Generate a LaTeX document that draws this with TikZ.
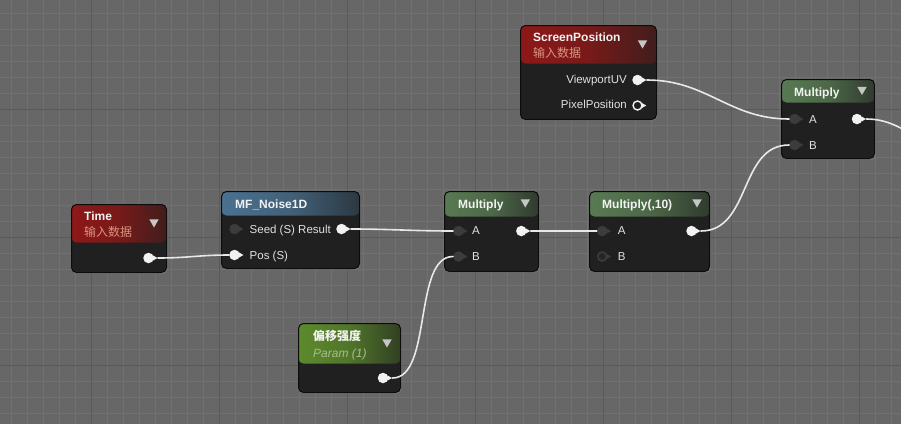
\documentclass[tikz,border=0pt]{standalone}
\usepackage{fontspec}
\setmainfont{Liberation Sans}
\newfontfamily\cjk{Noto Sans CJK SC}
\usepackage{tikz}
\usetikzlibrary{shapes.geometric,shadows}

\definecolor{ueGrid}{HTML}{676767}
\definecolor{ueMinor}{HTML}{717171}
\definecolor{ueMajor}{HTML}{5A5A5A}
\definecolor{ueBody}{HTML}{1F201F}
\definecolor{ueEdge}{HTML}{0C0C0C}
\definecolor{ueRed}{HTML}{8E1818}
\definecolor{ueBlue}{HTML}{4A7190}
\definecolor{ueGreen}{HTML}{587A52}
\definecolor{ueParam}{HTML}{5C8A2C}
\definecolor{ueMenu}{HTML}{C6C6C6}
\definecolor{uePin}{HTML}{F2F2F2}
\definecolor{ueDim}{HTML}{3B3C3B}
\definecolor{ueWire}{HTML}{E8E8E8}
\definecolor{ueText}{HTML}{F2F2F2}
\definecolor{ueLabel}{HTML}{E0E0E0}
\definecolor{ueKind}{HTML}{D99580}
\definecolor{ueParamText}{HTML}{A8BD92}

\tikzset{
  gridminor/.style={draw=ueMinor, line width=1pt},
  gridmajor/.style={draw=ueMajor, line width=1pt},
  box/.style={draw=ueEdge, fill=ueBody, line width=1pt, rounded corners=5pt,
    anchor=north west, inner sep=0pt,
    drop shadow={opacity=0.45, shadow xshift=1pt, shadow yshift=-1.5pt}},
  head/.style 2 args={path picture={
    \shade[left color=#1, right color=#1!30!ueBody, middle color=#1!80!ueBody]
      (path picture bounding box.north west)
      rectangle ([yshift=-#2pt]path picture bounding box.north east);}},
  title/.style={anchor=base west, inner sep=0pt, text=ueText,
    font=\fontsize{12}{14}\selectfont\bfseries},
  kind/.style={anchor=base west, inner sep=0pt, text=ueKind,
    font=\fontsize{12}{14}\selectfont},
  pinlabel/.style={anchor=base west, inner sep=0pt, text=ueLabel,
    font=\fontsize{11.5}{13}\selectfont},
  menu/.style={regular polygon, regular polygon sides=3, shape border rotate=180,
    fill=ueMenu, inner sep=0pt, minimum size=11pt},
  tip/.style={regular polygon, regular polygon sides=3, shape border rotate=-90,
    fill=#1, inner sep=0pt, minimum size=6pt, label distance=-1.2pt},
  pinout/.style={circle, fill=uePin, inner sep=0pt, minimum size=10.5pt,
    label={[tip=uePin]0:}},
  pinring/.style={circle, draw=uePin, line width=1.4pt, fill=ueBody, inner sep=0pt,
    minimum size=9pt, label={[tip=uePin]0:}},
  pindark/.style={circle, fill=ueDim, inner sep=0pt, minimum size=10.5pt,
    label={[tip=ueDim]0:}},
  pinhole/.style={circle, draw=ueDim, line width=1.6pt, fill=black!85, inner sep=0pt,
    minimum size=9pt, label={[tip=ueDim]0:}},
  wire/.style={draw=ueWire, line width=1.6pt, line cap=round},
}

\begin{document}
\begin{tikzpicture}[x=1pt, y=-1pt]
        \useasboundingbox (0,0) rectangle (901,424);
        \clip (0,0) rectangle (901,424);
        \fill[ueGrid] (0,0) rectangle (901,424);
        \foreach \gx in {11.5,27.5,...,900} \draw[gridminor] (\gx,0) -- (\gx,424);
        \foreach \gy in {13.5,29.5,...,424} \draw[gridminor] (0,\gy) -- (901,\gy);
        \foreach \gx in {91.5,219.5,...,900} \draw[gridmajor] (\gx,0) -- (\gx,424);
        \foreach \gy in {109.5,237.5,365.5} \draw[gridmajor] (0,\gy) -- (901,\gy);

        % boxes
        \node[box, head={ueRed}{38}, minimum width=95pt, minimum height=68pt] (time) at (71,204) {};
        \node[box, head={ueRed}{38}, minimum width=136pt, minimum height=94pt] (screen) at (520,25) {};
        \node[box, head={ueBlue}{24}, minimum width=138pt, minimum height=77pt] (noise) at (221,191) {};
        \node[box, head={ueGreen}{25}, minimum width=94pt, minimum height=80pt] (mulM) at (444,191) {};
        \node[box, head={ueGreen}{25}, minimum width=120pt, minimum height=80pt] (mul10) at (589,191) {};
        \node[box, head={ueGreen}{23}, minimum width=93pt, minimum height=79pt] (mulT) at (781,79) {};
        \node[box, head={ueParam}{40}, minimum width=102pt, minimum height=69pt] (param) at (298,323) {};

        % Time
        \node[title] (time-name) at (84,220) {Time};
        \node[kind] (time-kind) at (84,236.5) {\cjk 输入数据};
        \node[menu] (time-menu) at (154,222) {};
        \node[pinout] (time-out) at (148.5,258) {};

        % ScreenPosition
        \node[title] (screen-name) at (533,41) {ScreenPosition};
        \node[kind] (screen-kind) at (533,57.5) {\cjk 输入数据};
        \node[menu] (screen-menu) at (642.5,43) {};
        \node[pinlabel, anchor=base east] (screen-uv-text) at (627,83.5) {ViewportUV};
        \node[pinlabel, anchor=base east] (screen-px-text) at (627,108.5) {PixelPosition};
        \node[pinout] (screen-uv) at (637.5,80) {};
        \node[pinring] (screen-px) at (637.5,105.5) {};

        % MF_Noise1D
        \node[title] (noise-name) at (235,208) {MF\_Noise1D};
        \node[pindark] (noise-seed) at (234.5,229) {};
        \node[pinlabel] (noise-seed-text) at (249.5,233) {Seed (S)};
        \node[pinlabel, anchor=base east] (noise-result-text) at (331,233) {Result};
        \node[pinout] (noise-result) at (341.5,229) {};
        \node[pinout] (noise-pos) at (234.5,255) {};
        \node[pinlabel] (noise-pos-text) at (249.5,259) {Pos (S)};

        % Multiply
        \node[title] (mulM-name) at (458,208) {Multiply};
        \node[menu] (mulM-menu) at (525.3,202) {};
        \node[pindark] (mulM-a) at (458.5,231) {};
        \node[pindark] (mulM-b) at (458.5,256.5) {};
        \node[pinlabel] (mulM-a-text) at (472,234.5) {A};
        \node[pinlabel] (mulM-b-text) at (472,260.5) {B};
        \node[pinout] (mulM-out) at (521.3,231) {};

        % Multiply(,10)
        \node[title] (mul10-name) at (602,208) {Multiply(,10)};
        \node[menu] (mul10-menu) at (697,202) {};
        \node[pindark] (mul10-a) at (602.2,231) {};
        \node[pinhole] (mul10-b) at (602.2,256.5) {};
        \node[pinlabel] (mul10-a-text) at (617.7,234.5) {A};
        \node[pinlabel] (mul10-b-text) at (617.7,260.5) {B};
        \node[pinout] (mul10-out) at (691.5,231) {};

        % Multiply, top right
        \node[title] (mulT-name) at (794,96.5) {Multiply};
        \node[menu] (mulT-menu) at (862,89.5) {};
        \node[pindark] (mulT-a) at (794.5,119) {};
        \node[pindark] (mulT-b) at (794.5,145) {};
        \node[pinlabel] (mulT-a-text) at (809,123) {A};
        \node[pinlabel] (mulT-b-text) at (809,149) {B};
        \node[pinout] (mulT-out) at (857,119) {};

        % 偏移强度
        \node[title] (param-name) at (313,340) {\cjk 偏移强度};
        \node[kind, text=ueParamText] (param-kind) at (313,357) {\itshape Param (1)};
        \node[menu] (param-menu) at (387,342) {};
        \node[pinout] (param-out) at (383,378) {};

        % wires
        \coordinate (offscreen) at (960,150);
        \draw[wire] ([xshift=4pt]time-out.east) .. controls +(30,0) and +(-30,0) .. (noise-pos.west);
        \draw[wire] ([xshift=4pt]noise-result.east) .. controls +(40,0) and +(-40,0) .. (mulM-a.west);
        \draw[wire] ([xshift=4pt]mulM-out.east) -- (mul10-a.west);
        \draw[wire] ([xshift=4pt]param-out.east) .. controls +(40,0) and +(-40,0) .. (mulM-b.west);
        \draw[wire] ([xshift=4pt]mul10-out.east) .. controls +(50,0) and +(-50,0) .. (mulT-b.west);
        \draw[wire] ([xshift=4pt]screen-uv.east) .. controls +(60,0) and +(-60,0) .. (mulT-a.west);
        \draw[wire] ([xshift=4pt]mulT-out.east) .. controls +(38,0) and +(-40,0) .. (offscreen);
\end{tikzpicture}
\end{document}
